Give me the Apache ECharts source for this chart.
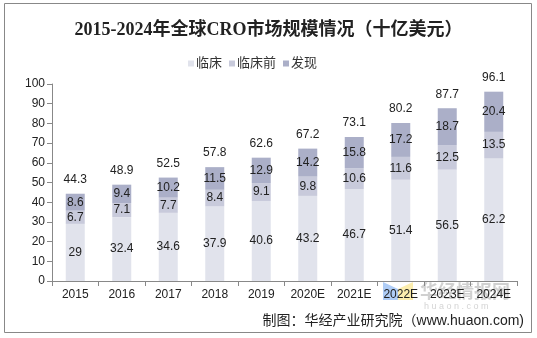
<!DOCTYPE html>
<html><head><meta charset="utf-8">
<script src="https://cdn.jsdelivr.net/npm/echarts@6/dist/echarts.min.js"></script>
<style>html,body{margin:0;padding:0;background:#fff}#c{width:537px;height:338px}</style>
</head><body><div id="c"></div>
<script>
const categories = ['2015','2016','2017','2018','2019','2020E','2021E','2022E','2023E','2024E'];
const clinical = [29,32.4,34.6,37.9,40.6,43.2,46.7,51.4,56.5,62.2];
const preclinical = [6.7,7.1,7.7,8.4,9.1,9.8,10.6,11.6,12.5,13.5];
const discovery = [8.6,9.4,10.2,11.5,12.9,14.2,15.8,17.2,18.7,20.4];
const totals = [44.3,48.9,52.5,57.8,62.6,67.2,73.1,80.2,87.7,96.1];
const yTicks = [0,10,20,30,40,50,60,70,80,90,100];
const seriesNames = ['临床','临床前','发现'];
const colors = ['#e1e3ec','#c8cadb','#abafc8'];

const chart = echarts.init(document.getElementById('c'));
const font = 'Liberation Sans, Arial, Noto Sans CJK SC, sans-serif';
const lbl = {show:true, position:'inside', color:'#222', fontSize:12, fontFamily:font};
chart.setOption({
  animation:false,
  title:{text:'2015-2024年全球CRO市场规模情况（十亿美元）', left:'center', top:16,
    textStyle:{fontSize:18, fontWeight:'bold', color:'#222', fontFamily:'Liberation Serif, Noto Sans CJK SC, serif'}},
  legend:{data:seriesNames, top:52, left:183, itemWidth:6, itemHeight:6, itemGap:7,
    icon:'rect', textStyle:{fontSize:13, color:'#333', fontFamily:font, padding:[0,0,0,-3]}},
  grid:{left:52, right:20, top:84, bottom:57},
  xAxis:{type:'category', data:categories,
    axisLine:{lineStyle:{color:'#888'}}, axisTick:{show:true, lineStyle:{color:'#888'}},
    axisLabel:{color:'#222', fontSize:12, fontFamily:font, margin:8}},
  yAxis:{type:'value', min:0, max:100, interval:10,
    axisLine:{show:true, lineStyle:{color:'#888'}}, axisTick:{show:true, lineStyle:{color:'#888'}},
    splitLine:{show:false},
    axisLabel:{color:'#222', fontSize:12, fontFamily:font, margin:7,
      formatter:v=>yTicks.includes(v)?String(v):''}},
  series:[
    {name:seriesNames[0], type:'bar', stack:'a', data:clinical, barWidth:19, itemStyle:{color:colors[0]}, label:lbl},
    {name:seriesNames[1], type:'bar', stack:'a', data:preclinical, itemStyle:{color:colors[1]}, label:lbl},
    {name:seriesNames[2], type:'bar', stack:'a', data:discovery, itemStyle:{color:colors[2]}, label:lbl},
    {name:'total', type:'bar', stack:'a', data:totals.map(()=>0), itemStyle:{color:'transparent'},
      label:{show:true, position:'top', distance:8, color:'#222', fontSize:12, fontFamily:font,
        formatter:p=>String(totals[p.dataIndex])}, tooltip:{show:false}}
  ],
  graphic:[
    {type:'rect', shape:{x:4.5,y:3.5,width:527,height:329}, style:{fill:'none', stroke:'#888', lineWidth:1}, silent:true},
    {type:'polygon', shape:{points:[[383,282],[398,289],[398,300],[383,300]]}, style:{fill:'rgba(120,170,240,0.6)'}, silent:true},
    {type:'polygon', shape:{points:[[398,289],[413,282],[413,300],[398,300]]}, style:{fill:'rgba(250,225,120,0.6)'}, silent:true},
    {type:'text', left:420, top:282, style:{text:'华经情报网', fontSize:18, fontWeight:'bold', fill:'rgba(150,150,150,0.45)', fontFamily:'Noto Sans CJK SC'}, silent:true},
    {type:'text', left:424, top:302, style:{text:'h u a o n . c o m', fontSize:9, fill:'rgba(160,160,160,0.45)', fontFamily:font}, silent:true},
    {type:'text', right:13, top:314, style:{text:'制图：华经产业研究院（www.huaon.com)', fontSize:14, fill:'#222', fontFamily:font}, silent:true}
  ]
});
</script></body></html>
